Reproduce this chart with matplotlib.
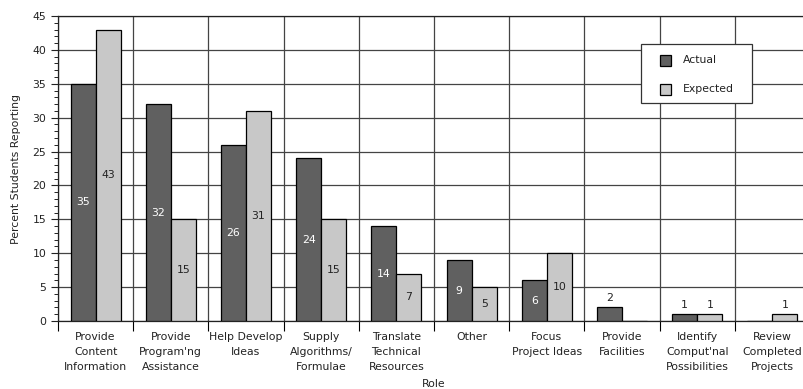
import matplotlib
matplotlib.use("Agg")
import matplotlib.pyplot as plt
import numpy as np
from matplotlib.patches import Rectangle
from matplotlib.ticker import MultipleLocator, FixedLocator, NullFormatter

roles = [
    "Provide\nContent\nInformation",
    "Provide\nProgram'ng\nAssistance",
    "Help Develop\nIdeas",
    "Supply\nAlgorithms/\nFormulae",
    "Translate\nTechnical\nResources",
    "Other",
    "Focus\nProject Ideas",
    "Provide\nFacilities",
    "Identify\nComput'nal\nPossibilities",
    "Review\nCompleted\nProjects",
]
actual = [35, 32, 26, 24, 14, 9, 6, 2, 1, 0]
expected = [43, 15, 31, 15, 7, 5, 10, 0, 1, 1]
series_names = ["Actual", "Expected"]

plt.rcParams["font.family"] = ["DejaVu Sans"]

fig = plt.figure(figsize=(8.04, 3.89), dpi=100)
W, H = 804, 389
left, right, top, bottom = 58, 810, 16, 321
ax = fig.add_axes([left / W, (H - bottom) / H, (right - left) / W, (bottom - top) / H])

n = len(roles)
x = np.arange(n)
bw = 1 / 3
dark = "#606060"
light = "#c8c8c8"
txt = "#222222"

ax.bar(x - bw / 2, actual, bw, color=dark, edgecolor="black", linewidth=0.9, zorder=3)
ax.bar(x + bw / 2, expected, bw, color=light, edgecolor="black", linewidth=0.9, zorder=3)

fs = 7.8
for xs, vals, inner in ((x - bw / 2, actual, "white"), (x + bw / 2, expected, txt)):
    for xi, v in zip(xs, vals):
        if v == 0:
            continue
        if v >= 5:
            ax.text(xi, v / 2, str(v), ha="center", va="center", color=inner, fontsize=fs, zorder=4)
        else:
            ax.text(xi, v + 0.6, str(v), ha="center", va="bottom", color=txt, fontsize=fs, zorder=4)

ax.set_xlim(-0.5, n - 0.5)
ax.set_ylim(0, 45)

ax.yaxis.set_major_locator(MultipleLocator(5))
ax.yaxis.set_minor_locator(MultipleLocator(1))
ax.tick_params(axis="y", which="major", length=5, width=0.8, labelsize=fs, colors=txt)
ax.tick_params(axis="y", which="minor", length=3, width=0.6)

# category boundaries carry the x ticks; labels sit at the centres
ax.xaxis.set_major_locator(FixedLocator(np.arange(n + 1) - 0.5))
ax.xaxis.set_major_formatter(NullFormatter())
ax.xaxis.set_minor_locator(FixedLocator(x))
ax.set_xticklabels(roles, minor=True)
ax.tick_params(axis="x", which="major", length=7, width=0.8, direction="out")
ax.tick_params(axis="x", which="minor", length=0, pad=8, labelsize=fs, colors=txt)
for lab in ax.get_xticklabels(minor=True):
    lab.set_linespacing(1.62)

ax.grid(True, which="major", axis="both", color="#444444", linewidth=0.9, zorder=0)
ax.set_axisbelow(True)
for s in ax.spines.values():
    s.set_color("#222222")
    s.set_linewidth(0.9)

ax.set_ylabel("Percent Students Reporting", fontsize=fs, color=txt, labelpad=8)
ax.set_xlabel("Role", fontsize=fs, color=txt, labelpad=5)


def pix(xp, yp):
    """Figure coordinates for a point given in pixels from the top-left corner."""
    return xp / W, (H - yp) / H


# legend box with its two swatches
bx0, by0, bx1, by1 = 641, 44, 752, 103
fig.patches.append(Rectangle(pix(bx0, by1), (bx1 - bx0) / W, (by1 - by0) / H,
                             transform=fig.transFigure, facecolor="white",
                             edgecolor="#333333", linewidth=0.9, zorder=5))
for name, col, yc in zip(series_names, (dark, light), (60, 89)):
    fig.patches.append(Rectangle(pix(660, yc + 5.5), 11.5 / W, 11 / H,
                                 transform=fig.transFigure, facecolor=col,
                                 edgecolor="black", linewidth=0.9, zorder=6))
    fig.text(*pix(683, yc), name, ha="left", va="center", fontsize=fs, color=txt, zorder=7)

fig.savefig("out.png", dpi=100)
